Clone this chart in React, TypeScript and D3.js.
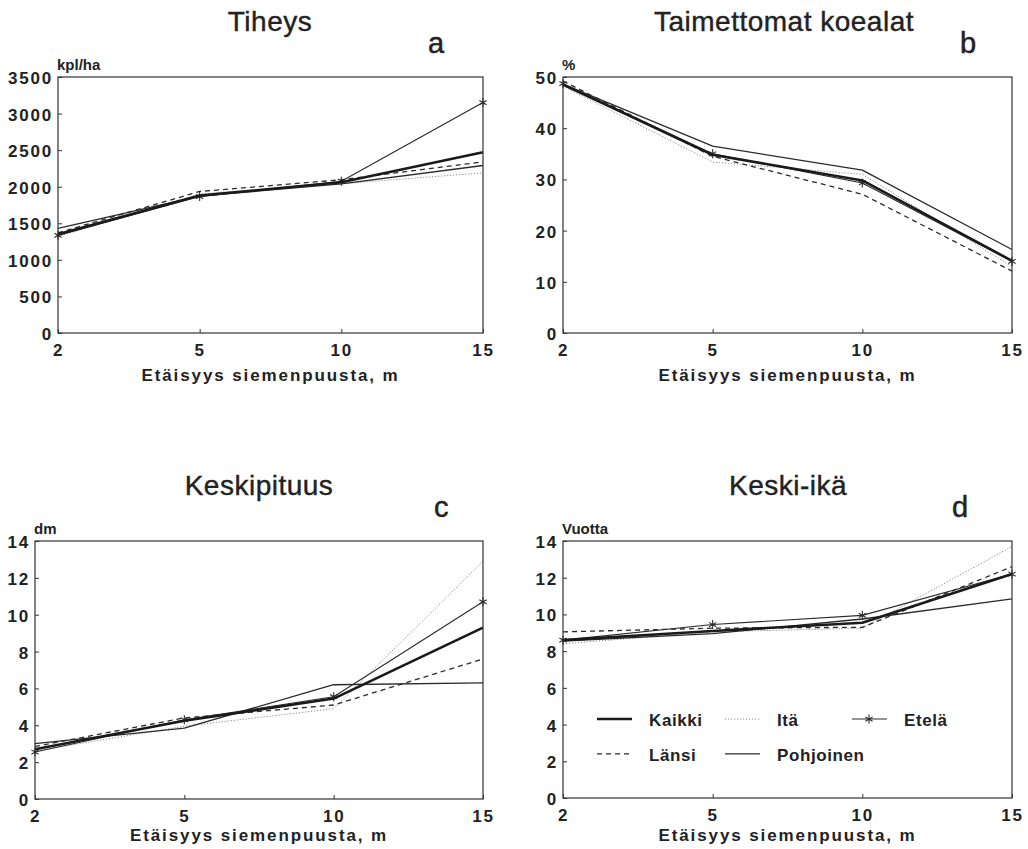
import { useRef, useEffect } from 'react'
import * as d3 from 'd3'

const WIDTH = 1028
const HEIGHT = 849

// Distance classes on the x axis (evenly spaced, not linear)
const DISTANCES = ['2', '5', '10', '15']

const SERIES = ['Kaikki', 'Itä', 'Etelä', 'Länsi', 'Pohjoinen']

// a: Tiheys, kpl/ha
const TIHEYS_KAIKKI = [1350, 1880, 2060, 2470]
const TIHEYS_ITA = [1320, 1900, 2040, 2190]
const TIHEYS_ETELA = [1335, 1865, 2075, 3150]
const TIHEYS_LANSI = [1370, 1935, 2095, 2340]
const TIHEYS_POHJOINEN = [1430, 1870, 2040, 2290]

// b: Taimettomat koealat, %
const TAIM_KAIKKI = [48.5, 34.8, 29.8, 14.1]
const TAIM_ITA = [48.2, 33.4, 31.0, 13.0]
const TAIM_ETELA = [48.7, 35.0, 29.3, 14.0]
const TAIM_LANSI = [49.2, 34.5, 27.1, 12.1]
const TAIM_POHJOINEN = [48.6, 36.5, 31.8, 16.3]

// c: Keskipituus, dm
const PIT_KAIKKI = [2.7, 4.25, 5.45, 9.3]
const PIT_ITA = [2.6, 3.95, 4.9, 12.9]
const PIT_ETELA = [2.55, 4.3, 5.55, 10.7]
const PIT_LANSI = [2.85, 4.4, 5.1, 7.6]
const PIT_POHJOINEN = [3.0, 3.85, 6.2, 6.3]

// d: Keski-ikä, vuotta
const IKA_KAIKKI = [8.6, 9.1, 9.55, 12.2]
const IKA_ITA = [8.4, 9.05, 9.25, 13.7]
const IKA_ETELA = [8.6, 9.45, 9.95, 12.2]
const IKA_LANSI = [9.05, 9.25, 9.3, 12.6]
const IKA_POHJOINEN = [8.55, 8.95, 9.75, 10.85]

const TIHEYS_TICKS = [0, 500, 1000, 1500, 2000, 2500, 3000, 3500]
const TAIM_TICKS = [0, 10, 20, 30, 40, 50]
const PIT_TICKS = [0, 2, 4, 6, 8, 10, 12, 14]
const IKA_TICKS = [0, 2, 4, 6, 8, 10, 12, 14]

const X_LABEL = 'Etäisyys siemenpuusta, m'
const FONT = '"Liberation Sans", Arial, Helvetica, sans-serif'
const INK = '#222'

// line look per series
const STYLES: Record<string, { width: number; dash: string | null; color: string; star: boolean }> = {
  Kaikki: { width: 2.6, dash: null, color: '#1a1a1a', star: false },
  Itä: { width: 1, dash: '1.2,1.8', color: '#8a8a8a', star: false },
  Etelä: { width: 1.1, dash: null, color: '#2a2a2a', star: true },
  Länsi: { width: 1.3, dash: '5,4', color: '#2a2a2a', star: false },
  Pohjoinen: { width: 1.3, dash: null, color: '#2a2a2a', star: false },
}

interface Panel {
  title: string
  letter: string
  unit: string
  ticks: number[]
  series: Record<string, number[]>
  box: { x0: number; x1: number; y0: number; y1: number }
  titleX: number
  letterX: number
  labelOffset: number
  legend: boolean
}

const PANELS: Panel[] = [
  {
    title: 'Tiheys', letter: 'a', unit: 'kpl/ha', ticks: TIHEYS_TICKS,
    series: { Kaikki: TIHEYS_KAIKKI, Itä: TIHEYS_ITA, Etelä: TIHEYS_ETELA, Länsi: TIHEYS_LANSI, Pohjoinen: TIHEYS_POHJOINEN },
    box: { x0: 58, x1: 483, y0: 77, y1: 333 }, titleX: 270, letterX: 428, labelOffset: 48, legend: false,
  },
  {
    title: 'Taimettomat koealat', letter: 'b', unit: '%', ticks: TAIM_TICKS,
    series: { Kaikki: TAIM_KAIKKI, Itä: TAIM_ITA, Etelä: TAIM_ETELA, Länsi: TAIM_LANSI, Pohjoinen: TAIM_POHJOINEN },
    box: { x0: 563, x1: 1012, y0: 77, y1: 333 }, titleX: 784, letterX: 960, labelOffset: 48, legend: false,
  },
  {
    title: 'Keskipituus', letter: 'c', unit: 'dm', ticks: PIT_TICKS,
    series: { Kaikki: PIT_KAIKKI, Itä: PIT_ITA, Etelä: PIT_ETELA, Länsi: PIT_LANSI, Pohjoinen: PIT_POHJOINEN },
    box: { x0: 35, x1: 483, y0: 541, y1: 799 }, titleX: 259, letterX: 434, labelOffset: 42, legend: false,
  },
  {
    title: 'Keski-ikä', letter: 'd', unit: 'Vuotta', ticks: IKA_TICKS,
    series: { Kaikki: IKA_KAIKKI, Itä: IKA_ITA, Etelä: IKA_ETELA, Länsi: IKA_LANSI, Pohjoinen: IKA_POHJOINEN },
    box: { x0: 563, x1: 1012, y0: 541, y1: 798 }, titleX: 788, letterX: 952, labelOffset: 43, legend: true,
  },
]

type G = d3.Selection<SVGGElement, unknown, null, undefined>

function star(g: G, cx: number, cy: number, color: string) {
  const r = 4.5
  const d = r * 0.8
  const path = `M${cx},${cy - r}L${cx},${cy + r}M${cx - d},${cy - d * 0.6}L${cx + d},${cy + d * 0.6}M${cx - d},${cy + d * 0.6}L${cx + d},${cy - d * 0.6}`
  g.append('path').attr('d', path).attr('stroke', color).attr('stroke-width', 1.1).attr('fill', 'none')
}

function drawPanel(root: G, p: Panel) {
  const { x0, x1, y0, y1 } = p.box
  const x = d3.scalePoint<string>().domain(DISTANCES).range([x0, x1])
  const y = d3.scaleLinear().domain([0, p.ticks[p.ticks.length - 1]]).range([y1, y0])
  const g = root.append('g')

  // titles
  g.append('text').attr('x', p.titleX).attr('y', y0 - 46).attr('text-anchor', 'middle')
    .attr('font-size', 28).attr('fill', INK).attr('stroke', INK).attr('stroke-width', 0.4)
    .attr('letter-spacing', 0.5).text(p.title)
  g.append('text').attr('x', p.letterX).attr('y', y0 - 24)
    .attr('font-size', 29).attr('fill', INK).attr('stroke', INK).attr('stroke-width', 0.5).text(p.letter)
  g.append('text').attr('x', x0 - 1).attr('y', y0 - 7)
    .attr('font-size', 15).attr('font-weight', 'bold').attr('fill', INK).text(p.unit)

  // lines
  const line = d3.line<number>().x((_, i) => x(DISTANCES[i]) ?? 0).y((v) => y(v))
  const order = ['Itä', 'Länsi', 'Pohjoinen', 'Etelä', 'Kaikki']
  order.forEach((name) => {
    const st = STYLES[name]
    const vals = p.series[name]
    g.append('path').attr('d', line(vals)).attr('fill', 'none')
      .attr('stroke', st.color).attr('stroke-width', st.width)
      .attr('stroke-dasharray', st.dash).attr('stroke-linejoin', 'round')
    if (st.star) vals.forEach((v, i) => star(g, x(DISTANCES[i]) ?? 0, y(v), st.color))
  })

  // frame
  g.append('rect').attr('x', x0).attr('y', y0).attr('width', x1 - x0).attr('height', y1 - y0)
    .attr('fill', 'none').attr('stroke', '#333').attr('stroke-width', 1.2)

  // y axis
  const yAxis = g.append('g').attr('transform', `translate(${x0},0)`)
    .call(d3.axisLeft(y).tickValues(p.ticks).tickSize(-4).tickPadding(5).tickFormat((d) => `${d}`))
  yAxis.select('.domain').remove()
  yAxis.selectAll('.tick line').attr('stroke', '#333')
  yAxis.selectAll('text').attr('font-size', 17).attr('font-weight', 'bold').attr('fill', INK)
    .attr('letter-spacing', 1.8).attr('font-family', FONT).attr('dy', '0.38em')

  // x axis
  const xAxis = g.append('g').attr('transform', `translate(0,${y1})`)
    .call(d3.axisBottom(x).tickSize(-4).tickPadding(8))
  xAxis.select('.domain').remove()
  xAxis.selectAll('.tick line').attr('stroke', '#333')
  xAxis.selectAll('text').attr('font-size', 17).attr('font-weight', 'bold').attr('fill', INK)
    .attr('letter-spacing', 1.8).attr('font-family', FONT).attr('dy', '0.9em')

  g.append('text').attr('x', (x0 + x1) / 2).attr('y', y1 + p.labelOffset).attr('text-anchor', 'middle')
    .attr('font-size', 17).attr('font-weight', 'bold').attr('fill', INK)
    .attr('letter-spacing', 1.9).text(X_LABEL)

  if (p.legend) drawLegend(g, x0, y)
}

function drawLegend(g: G, x0: number, y: d3.ScaleLinear<number, number>) {
  // legend sits in the empty lower part of panel d
  const cols = [x0 + 34, x0 + 162, x0 + 289]
  const rows = [y(4.3), y(2.4)]
  const place: Record<string, [number, number]> = {
    Kaikki: [0, 0], Itä: [1, 0], Etelä: [2, 0], Länsi: [0, 1], Pohjoinen: [1, 1],
  }
  SERIES.forEach((name) => {
    const st = STYLES[name]
    const [c, r] = place[name]
    const lx = cols[c]
    const ly = rows[r]
    g.append('line').attr('x1', lx).attr('x2', lx + 35).attr('y1', ly).attr('y2', ly)
      .attr('stroke', st.color).attr('stroke-width', st.width).attr('stroke-dasharray', st.dash)
    if (st.star) star(g, lx + 17, ly, st.color)
    g.append('text').attr('x', lx + 52).attr('y', ly + 7)
      .attr('font-size', 17).attr('font-weight', 'bold').attr('fill', INK)
      .attr('letter-spacing', 0.6).text(name)
  })
}

export default function App() {
  const svgRef = useRef<SVGSVGElement>(null)

  useEffect(() => {
    if (!svgRef.current) return
    const el = d3.select(svgRef.current)
    el.selectAll('*').remove()
    const root = el.append('g').attr('font-family', FONT) as G
    PANELS.forEach((p) => drawPanel(root, p))
  }, [])

  return (
    <svg
      ref={svgRef}
      width={WIDTH}
      height={HEIGHT}
      style={{ position: 'absolute', left: 0, top: 0, background: '#fff' }}
    />
  )
}
